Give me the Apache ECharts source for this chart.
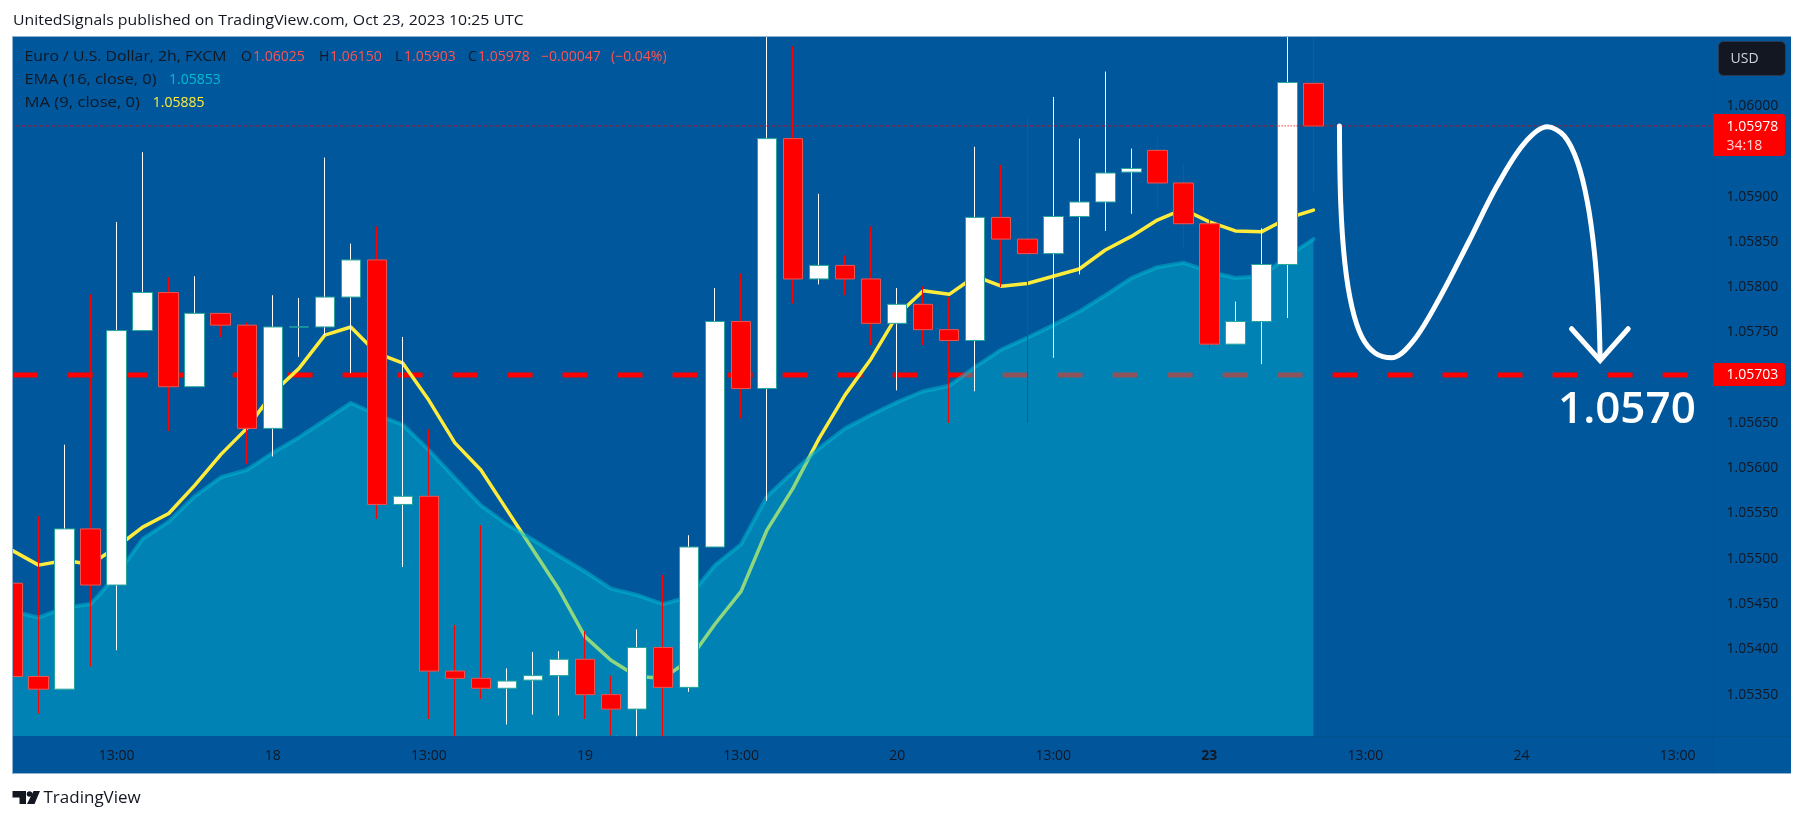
<!DOCTYPE html>
<html>
<head>
<meta charset="utf-8">
<title>EURUSD 2h</title>
<script src="https://cdn.jsdelivr.net/npm/echarts@6/dist/echarts.min.js"></script>
<style>
  html, body { margin: 0; padding: 0; background: #fff; }
  #main { width: 1804px; height: 821px; }
</style>
</head>
<body>
<div id="main"></div>
<script>
// candle values
var openPrices = [1.05473,1.05370,1.05356,1.05533,1.05471,1.05752,1.05794,1.05690,1.05771,1.05758,1.05644,1.05756,1.05756,1.05789,1.05830,1.05560,1.05569,1.05376,1.05368,1.05357,1.05366,1.05371,1.05389,1.05350,1.05334,1.05402,1.05358,1.05513,1.05762,1.05688,1.05964,1.05809,1.05824,1.05809,1.05760,1.05781,1.05753,1.05741,1.05877,1.05853,1.05837,1.05878,1.05894,1.05927,1.05951,1.05915,1.05870,1.05737,1.05762,1.05825,1.06025];
var closePrices = [1.05370,1.05356,1.05533,1.05471,1.05752,1.05794,1.05690,1.05771,1.05758,1.05644,1.05756,1.05756,1.05789,1.05830,1.05560,1.05569,1.05376,1.05368,1.05357,1.05365,1.05371,1.05389,1.05350,1.05334,1.05402,1.05358,1.05513,1.05762,1.05688,1.05964,1.05809,1.05824,1.05809,1.05760,1.05781,1.05753,1.05741,1.05877,1.05853,1.05837,1.05878,1.05894,1.05926,1.05931,1.05915,1.05870,1.05737,1.05762,1.05825,1.06026,1.05978];
var lowPrices = [1.05370,1.05329,1.05356,1.05381,1.05399,1.05752,1.05641,1.05690,1.05745,1.05605,1.05613,1.05723,1.05747,1.05705,1.05544,1.05491,1.05323,1.05304,1.05345,1.05317,1.05328,1.05327,1.05323,1.05305,1.05304,1.05304,1.05353,1.05513,1.05655,1.05564,1.05782,1.05803,1.05791,1.05736,1.05686,1.05736,1.05650,1.05685,1.05800,1.05650,1.05722,1.05814,1.05862,1.05881,1.05886,1.05842,1.05732,1.05737,1.05715,1.05766,1.05903];
var highPrices = [1.05473,1.05547,1.05626,1.05792,1.05872,1.05949,1.05811,1.05812,1.05771,1.05761,1.05791,1.05788,1.05943,1.05848,1.05867,1.05745,1.05643,1.05427,1.05537,1.05379,1.05397,1.05398,1.05420,1.05371,1.05422,1.05482,1.05526,1.05799,1.05815,1.06120,1.06066,1.05903,1.05835,1.05867,1.05799,1.05801,1.05789,1.05955,1.05935,1.05990,1.06010,1.05964,1.06038,1.05953,1.05965,1.05936,1.05874,1.05784,1.05865,1.06140,1.06150];

var emaValues = [1.05442,1.05435,1.05446,1.05450,1.05482,1.05522,1.05541,1.05569,1.05590,1.05598,1.05617,1.05634,1.05653,1.05672,1.05659,1.05648,1.05620,1.05589,1.05559,1.05538,1.05521,1.05503,1.05486,1.05467,1.05460,1.05450,1.05458,1.05493,1.05516,1.05569,1.05596,1.05622,1.05644,1.05659,1.05673,1.05685,1.05691,1.05712,1.05731,1.05744,1.05758,1.05773,1.05791,1.05810,1.05822,1.05827,1.05817,1.05810,1.05812,1.05834,1.05853];
var maValues = [1.05509,1.05493,1.05498,1.05494,1.05513,1.05535,1.05550,1.05581,1.05615,1.05644,1.05683,1.05710,1.05747,1.05756,1.05727,1.05716,1.05675,1.05628,1.05598,1.05554,1.05510,1.05466,1.05414,1.05388,1.05370,1.05368,1.05388,1.05428,1.05464,1.05532,1.05578,1.05633,1.05681,1.05721,1.05769,1.05796,1.05792,1.05812,1.05801,1.05804,1.05812,1.05820,1.05841,1.05856,1.05874,1.05886,1.05872,1.05862,1.05861,1.05876,1.05885];

var lastPrice = 1.05978;
var targetLevel = 1.05703;

var priceTicks = [1.06,1.0595,1.059,1.0585,1.058,1.0575,1.057,1.0565,1.056,1.0555,1.055,1.0545,1.054,1.0535];
var timeTickBars = [4,10,16,22,28,34,40,46,52,58,64];
var timeTickNames = ['13:00','18','13:00','19','13:00','20','13:00','23','13:00','24','13:00'];

// hand drawn forecast, [bar position, price]
var forecastCurve = [[51.00,1.05978],[51.05,1.05892],[51.21,1.05826],[51.48,1.05778],[51.86,1.05745],[52.38,1.05727],[53.02,1.05722],[53.85,1.05741],[54.85,1.05788],[55.95,1.05849],[57.04,1.05911],[58.08,1.05958],[58.99,1.05977],[59.64,1.05967],[60.15,1.05938],[60.53,1.05894],[60.79,1.05841],[60.95,1.05782],[61.02,1.05722]];
var forecastHead = [[59.92,1.05754],[61.02,1.05719],[62.10,1.05754]];

var barCount = 67;
var categories = [];
for (var i = 0; i < barCount; i++) {
    var pos = timeTickBars.indexOf(i);
    categories.push(pos >= 0 ? timeTickNames[pos] : '');
}

var wickData = [], bodyData = [], levelLine = [], lastLine = [];
for (var j = 0; j < openPrices.length; j++) {
    wickData.push([openPrices[j], closePrices[j], lowPrices[j], highPrices[j]]);
    bodyData.push([openPrices[j], closePrices[j],
        Math.min(openPrices[j], closePrices[j]), Math.max(openPrices[j], closePrices[j])]);
}
for (var k = 0; k < barCount; k++) {
    levelLine.push(targetLevel);
    lastLine.push(lastPrice);
}

var font = '"Open Sans", sans-serif';
var ink = '#131722';
var plotBg = '#01579B';

// stretch widens names to the tracking of the original
function label(x, y, text, color, size, weight, stretch) {
    return {
        type: 'text', z: 40, silent: true,
        x: x, y: y,
        scaleX: stretch || 1,
        style: {
            x: 0, y: 0, text: text, fill: color,
            font: (weight || 'normal') + ' ' + (size || 14) + 'px ' + font,
            textVerticalAlign: 'middle'
        }
    };
}

var chart = echarts.init(document.getElementById('main'));

var option = {
    animation: false,
    backgroundColor: '#fff',
    grid: { left: 12.6, right: 74.3, top: 36, bottom: 85, containLabel: false },
    xAxis: [
        {
            type: 'category',
            data: categories,
            boundaryGap: false,
            axisLine: { show: false },
            axisTick: { show: false },
            axisLabel: {
                interval: 0,
                margin: 13,
                color: ink,
                fontFamily: font,
                fontSize: 14,
                formatter: function (value) {
                    return value === '23' ? '{b|23}' : value;
                },
                rich: { b: { fontWeight: 'bold', fontFamily: font, fontSize: 14, color: ink } }
            }
        },
        { type: 'value', min: 0, max: barCount - 1, show: false }
    ],
    yAxis: {
        type: 'value',
        position: 'right',
        offset: -3.2,
        z: 20,
        min: 1.053043,
        max: 1.060773,
        scale: true,
        splitLine: { show: false },
        axisLine: { show: false },
        axisTick: { show: false },
        axisLabel: {
            customValues: priceTicks,
            margin: 0,
            color: ink,
            fontFamily: font,
            fontSize: 14,
            formatter: function (value) { return value.toFixed(5); }
        }
    },
    series: [
        {
            name: 'level',
            type: 'line',
            z: 2,
            data: levelLine,
            symbol: 'none',
            silent: true,
            lineStyle: { color: '#ff0000', width: 5, type: [25, 30] }
        },
        {
            name: 'MA (9, close, 0)',
            type: 'line',
            z: 2,
            data: maValues,
            symbol: 'none',
            lineStyle: { color: '#FFEB3B', width: 3.5, cap: 'round', join: 'round' }
        },
        {
            name: 'EMA (16, close, 0)',
            type: 'line',
            z: 3,
            data: emaValues,
            symbol: 'none',
            lineStyle: { color: 'rgba(0,188,212,0.5)', width: 4, cap: 'round', join: 'round' },
            areaStyle: { color: 'rgba(0,188,212,0.44)', opacity: 1, origin: 'start' }
        },
        {
            name: 'wicks',
            type: 'candlestick',
            z: 4,
            barWidth: 1,
            data: wickData,
            itemStyle: {
                color: '#ffffff', color0: '#ff0000',
                borderColor: '#ffffff', borderColor0: '#ff0000', borderColorDoji: '#ffffff',
                borderWidth: 1
            }
        },
        {
            name: 'bodies',
            type: 'candlestick',
            z: 5,
            barWidth: 20,
            data: bodyData,
            itemStyle: {
                color: '#ffffff', color0: '#ff0000',
                borderColor: '#26a69a', borderColor0: '#ef5350', borderColorDoji: '#26a69a',
                borderWidth: 1
            }
        },
        {
            name: 'last',
            type: 'line',
            z: 6,
            data: lastLine,
            symbol: 'none',
            silent: true,
            lineStyle: { color: '#ff0000', width: 1.3, type: [1, 2] }
        },
        {
            name: 'forecast',
            type: 'line',
            z: 7,
            xAxisIndex: 1,
            data: forecastCurve,
            smooth: 0.33,
            symbol: 'none',
            lineStyle: { color: '#ffffff', width: 5, cap: 'round' }
        },
        {
            name: 'forecast head',
            type: 'line',
            z: 7,
            xAxisIndex: 1,
            data: forecastHead,
            symbol: 'none',
            lineStyle: { color: '#ffffff', width: 5, cap: 'round', join: 'miter' }
        }
    ],
    graphic: [
        // frame and panels
        { type: 'rect', z: -5, silent: true, shape: { x: 12.5, y: 36.5, width: 1778, height: 737 }, style: { fill: plotBg, stroke: '#8fb2d0', lineWidth: 1 } },
        { type: 'rect', z: -4, silent: true, shape: { x: 13, y: 736, width: 1700, height: 37 }, style: { fill: '#01559A' } },
        { type: 'rect', z: 10, silent: true, shape: { x: 1713, y: 37, width: 78, height: 736 }, style: { fill: plotBg } },
        { type: 'line', z: 11, silent: true, shape: { x1: 1713.5, y1: 37, x2: 1713.5, y2: 773 }, style: { stroke: '#02528f', lineWidth: 1 } },
        { type: 'line', z: 11, silent: true, shape: { x1: 1313, y1: 736.5, x2: 1790, y2: 736.5 }, style: { stroke: '#02528f', lineWidth: 1 } },
        // white page around the frame hides what runs past the plot
        { type: 'rect', z: 12, silent: true, shape: { x: 0, y: 0, width: 1804, height: 36 }, style: { fill: '#ffffff' } },
        { type: 'rect', z: 12, silent: true, shape: { x: 0, y: 0, width: 12, height: 821 }, style: { fill: '#ffffff' } },
        { type: 'line', z: 13, silent: true, shape: { x1: 12, y1: 36.5, x2: 1791, y2: 36.5 }, style: { stroke: '#8fb2d0', lineWidth: 1 } },
        { type: 'line', z: 13, silent: true, shape: { x1: 12.5, y1: 36, x2: 12.5, y2: 774 }, style: { stroke: '#8fb2d0', lineWidth: 1 } },
        // top line
        label(13, 21, 'UnitedSignals published on TradingView.com, Oct 23, 2023 10:25 UTC', ink, 15, null, 1.055),
        // legend
        label(24.5, 57, 'Euro / U.S. Dollar, 2h, FXCM', ink, 14, null, 1.13),
        label(241, 57, 'O', ink), label(253, 57, '1.06025', '#ff5252'),
        label(319, 57, 'H', ink), label(330, 57, '1.06150', '#ff5252'),
        label(395, 57, 'L', ink), label(404, 57, '1.05903', '#ff5252'),
        label(468, 57, 'C', ink), label(478, 57, '1.05978', '#ff5252'),
        label(541, 57, '\u22120.00047', '#ff5252'), label(611, 57, '(\u22120.04%)', '#ff5252'),
        label(24.5, 80, 'EMA (16, close, 0)', ink, 14, null, 1.17), label(169, 80, '1.05853', '#00BCD4'),
        label(24.5, 103, 'MA (9, close, 0)', ink, 14, null, 1.19), label(152.7, 103, '1.05885', '#FFEB3B'),
        // USD badge
        { type: 'rect', z: 30, silent: true, shape: { x: 1718.5, y: 41.5, width: 67, height: 34, r: 5 }, style: { fill: '#131722', stroke: '#2a3a55', lineWidth: 1 } },
        label(1730.5, 59, 'USD', '#d1d4dc'),
        // price tags
        { type: 'rect', z: 30, silent: true, shape: { x: 1713, y: 114, width: 72, height: 42, r: [0, 3, 3, 0] }, style: { fill: '#ff0000' } },
        label(1726.5, 127, '1.05978', '#ffffff'),
        label(1726.5, 146, '34:18', '#ffd6d6'),
        { type: 'rect', z: 30, silent: true, shape: { x: 1713, y: 363, width: 72, height: 23, r: [0, 3, 3, 0] }, style: { fill: '#ff0000' } },
        label(1726.5, 375.5, '1.05703', '#ffffff'),
        // target text
        label(1558, 410, '1.0570', '#ffffff', 44, 600),
        // logo
        { type: 'polygon', z: 40, silent: true, shape: { points: [[12.5, 791], [26, 791], [26, 804], [19.5, 804], [19.5, 797.5], [12.5, 797.5]] }, style: { fill: ink } },
        { type: 'circle', z: 40, silent: true, shape: { cx: 29.5, cy: 794, r: 2.8 }, style: { fill: ink } },
        { type: 'polygon', z: 40, silent: true, shape: { points: [[33.5, 791], [40, 791], [34.5, 804], [27, 804]] }, style: { fill: ink } },
        label(43.5, 798, 'TradingView', ink, 17)
    ]
};

chart.setOption(option);
</script>
</body>
</html>
